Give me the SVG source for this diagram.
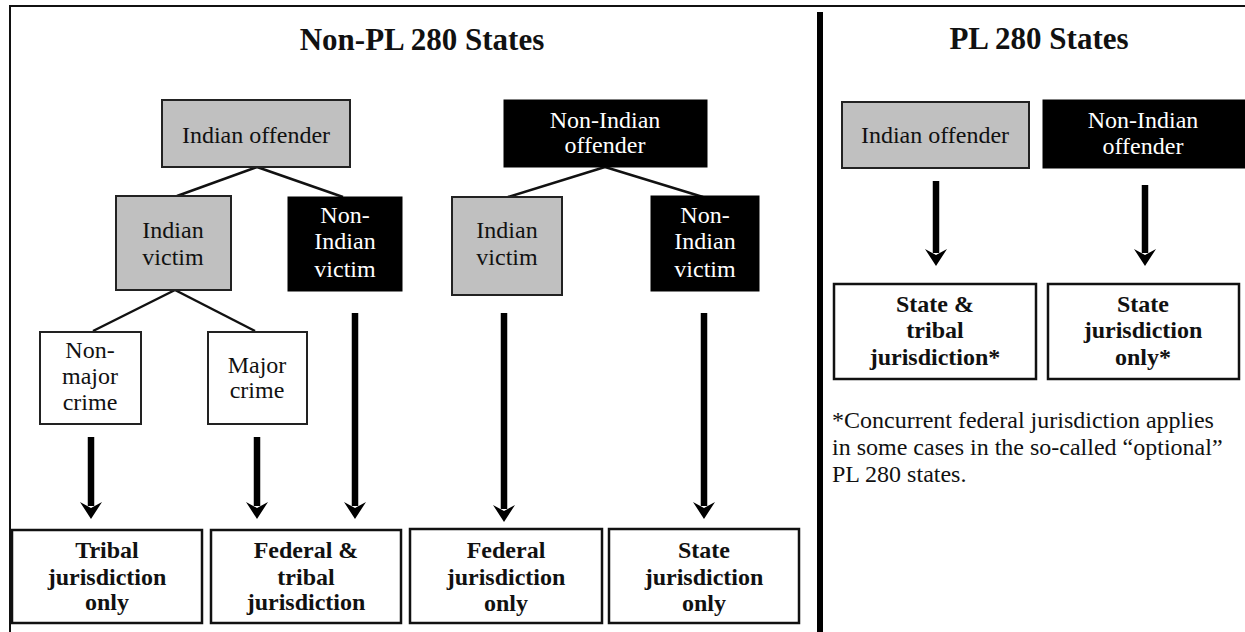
<svg xmlns="http://www.w3.org/2000/svg" width="1245" height="632" viewBox="0 0 1245 632" font-family="'Liberation Serif', 'DejaVu Serif', serif">
<style>
text{font-size:24px;text-anchor:middle;fill:#111}
.title{font-size:31px;font-weight:bold}
.b{font-weight:bold}
.w{fill:#fff}
.grey{fill:#c0c0c0;stroke:#222;stroke-width:2}
.blk{fill:#000;stroke:#000;stroke-width:1}
.wht{fill:#fff;stroke:#222;stroke-width:2}
.res{fill:#fff;stroke:#111;stroke-width:2.5}
.conn line.l{stroke:#111;stroke-width:2.5}
.conn line.a{stroke:#000;stroke-width:6.5}
.foot{text-anchor:start}
</style>
<defs>
<path id="head" d="M0,0 L-11,-17 L0,-11 L11,-17 Z" fill="#000"/>
</defs>
<rect width="1245" height="632" fill="#fff"/>
<g id="frame">
<line x1="9" y1="6" x2="1245" y2="6" stroke="#111" stroke-width="2"/>
<line x1="10" y1="5" x2="10" y2="632" stroke="#111" stroke-width="2"/>
<line x1="820" y1="12" x2="820" y2="632" stroke="#000" stroke-width="6"/>
</g>
<g id="titles">
<text class="title" x="422" y="50">Non-PL 280 States</text>
<text class="title" x="1039" y="49">PL 280 States</text>
</g>
<g class="conn" id="connectors">
<line class="l" x1="257" y1="167" x2="177" y2="196"/>
<line class="l" x1="257" y1="167" x2="343" y2="197"/>
<line class="l" x1="175" y1="290" x2="93" y2="331"/>
<line class="l" x1="175" y1="290" x2="255" y2="331"/>
<line class="l" x1="605" y1="167" x2="508" y2="197"/>
<line class="l" x1="605" y1="167" x2="703" y2="197"/>
<line class="a" x1="91" y1="437" x2="91" y2="506"/>
<use href="#head" x="91" y="519"/>
<line class="a" x1="257" y1="437" x2="257" y2="506"/>
<use href="#head" x="257" y="519"/>
<line class="a" x1="355" y1="313" x2="355" y2="506"/>
<use href="#head" x="355" y="519"/>
<line class="a" x1="504" y1="313" x2="504" y2="509"/>
<use href="#head" x="504" y="522"/>
<line class="a" x1="704" y1="313" x2="704" y2="506"/>
<use href="#head" x="704" y="519"/>
<line class="a" x1="936" y1="181" x2="936" y2="253"/>
<use href="#head" x="936" y="266"/>
<line class="a" x1="1145" y1="185" x2="1145" y2="253"/>
<use href="#head" x="1145" y="266"/>
</g>
<g id="n-indian-offender">
<rect class="grey" x="162" y="100" width="188" height="67"/>
<text x="256" y="143">Indian offender</text>
</g>
<g id="n-nonindian-offender">
<rect class="blk" x="504" y="100" width="203" height="67"/>
<text class="w" x="605" y="128">Non-Indian</text>
<text class="w" x="605" y="153">offender</text>
</g>
<g id="n-indian-victim-1">
<rect class="grey" x="116" y="196" width="115" height="94"/>
<text x="173" y="238">Indian</text>
<text x="173" y="265">victim</text>
</g>
<g id="n-nonindian-victim-1">
<rect class="blk" x="288" y="197" width="114" height="94"/>
<text class="w" x="345" y="223">Non-</text>
<text class="w" x="345" y="249">Indian</text>
<text class="w" x="345" y="277">victim</text>
</g>
<g id="n-indian-victim-2">
<rect class="grey" x="452" y="197" width="110" height="98"/>
<text x="507" y="238">Indian</text>
<text x="507" y="265">victim</text>
</g>
<g id="n-nonindian-victim-2">
<rect class="blk" x="651" y="196" width="108" height="95"/>
<text class="w" x="705" y="223">Non-</text>
<text class="w" x="705" y="249">Indian</text>
<text class="w" x="705" y="277">victim</text>
</g>
<g id="n-nonmajor">
<rect class="wht" x="40" y="332" width="101" height="92"/>
<text x="90" y="358">Non-</text>
<text x="90" y="384">major</text>
<text x="90" y="410">crime</text>
</g>
<g id="n-major">
<rect class="wht" x="208" y="332" width="99" height="92"/>
<text x="257" y="373">Major</text>
<text x="257" y="398">crime</text>
</g>
<g id="r-tribal">
<rect class="res" x="12" y="530" width="190" height="93"/>
<text class="b" x="107" y="558">Tribal</text>
<text class="b" x="107" y="585">jurisdiction</text>
<text class="b" x="107" y="610">only</text>
</g>
<g id="r-fed-tribal">
<rect class="res" x="211" y="530" width="190" height="93"/>
<text class="b" x="306" y="558">Federal &amp;</text>
<text class="b" x="306" y="585">tribal</text>
<text class="b" x="306" y="610">jurisdiction</text>
</g>
<g id="r-federal">
<rect class="res" x="410" y="529" width="192" height="94"/>
<text class="b" x="506" y="558">Federal</text>
<text class="b" x="506" y="585">jurisdiction</text>
<text class="b" x="506" y="611">only</text>
</g>
<g id="r-state">
<rect class="res" x="609" y="529" width="190" height="94"/>
<text class="b" x="704" y="558">State</text>
<text class="b" x="704" y="585">jurisdiction</text>
<text class="b" x="704" y="611">only</text>
</g>
<g id="p-indian-offender">
<rect class="grey" x="842" y="102" width="187" height="66"/>
<text x="935" y="143">Indian offender</text>
</g>
<g id="p-nonindian-offender">
<rect class="blk" x="1043" y="100" width="202" height="68"/>
<text class="w" x="1143" y="128">Non-Indian</text>
<text class="w" x="1143" y="154">offender</text>
</g>
<g id="p-state-tribal">
<rect class="res" x="834" y="284" width="202" height="95"/>
<text class="b" x="935" y="312">State &amp;</text>
<text class="b" x="935" y="338">tribal</text>
<text class="b" x="935" y="365">jurisdiction*</text>
</g>
<g id="p-state">
<rect class="res" x="1048" y="284" width="191" height="95"/>
<text class="b" x="1143" y="312">State</text>
<text class="b" x="1143" y="338">jurisdiction</text>
<text class="b" x="1143" y="365">only*</text>
</g>
<g id="footnote">
<text class="foot" x="832" y="428">*Concurrent federal jurisdiction applies</text>
<text class="foot" x="832" y="455">in some cases in the so-called “optional”</text>
<text class="foot" x="832" y="482">PL 280 states.</text>
</g>
</svg>
